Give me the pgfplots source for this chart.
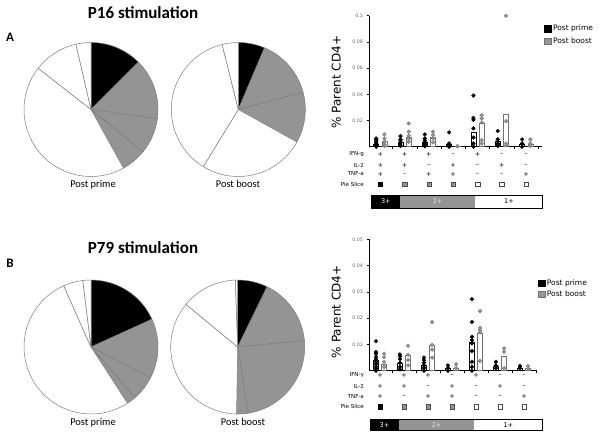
\documentclass[border=0pt]{standalone}
\usepackage{fontspec}
\setmainfont{Carlito}
\newfontfamily\lgf{DejaVu Sans}
\usepackage{pgfplots}
\pgfplotsset{compat=1.18}
\usepgfplotslibrary{polar}
\definecolor{pgray}{RGB}{148,148,148}
\definecolor{edge}{RGB}{125,125,125}
\definecolor{dgray}{RGB}{150,150,150}
\definecolor{dgrayline}{RGB}{115,115,115}
\pgfplotsset{
  pie/.style={scale only axis, width=134pt, height=134pt, hide axis, ymin=0, ymax=1,
    enlargelimits=false, anchor=center, clip=false},
  slice/.style={draw=edge, line width=0.5pt, fill=#1, samples=60, line join=round},
  rchart/.style={anchor=south west, scale only axis,
    axis x line=bottom, axis y line=left, axis line style={-, line width=0.6pt},
    tick align=outside, major tick length=2.5pt, tick style={line width=0.5pt, black},
    xtick={1.5,2.5,3.5,4.5,5.5,6.5,7.5}, xticklabels={},
    scaled y ticks=false, scaled x ticks=false,
    yticklabel style={font=\lgf\fontsize{4.8}{5}\selectfont, text=black!60},
    clip=false,
    legend style={draw=none, fill=none, anchor=north west, inner sep=0pt,
      font=\lgf\fontsize{7.5}{9}\selectfont, row sep=1.5pt},
    legend cell align=left},
  pdot/.style={only marks, mark=*, mark size=1.9pt, mark options={fill=black, draw=black}, forget plot},
  bdot/.style={only marks, mark=*, mark size=1.9pt, mark options={fill=dgray, draw=dgrayline, line width=0.3pt}, forget plot},
  pbar/.style={ybar, bar width=5pt, bar shift=0pt, fill=white, draw=black, line width=0.6pt, forget plot},
  bbar/.style={ybar, bar width=5pt, bar shift=0pt, fill=white, draw=dgrayline, line width=0.6pt, forget plot},
}
\begin{document}
\begin{tikzpicture}
\useasboundingbox (0pt,0pt) rectangle (601pt,-437pt);

% ---------------- Pies, P16 ----------------
\begin{polaraxis}[pie, at={(91pt,-109.5pt)}]
\addplot[slice=black, domain=45:90] {1} -- (axis cs:0,0) -- cycle;
\addplot[slice=pgray, domain=-8:45] {1} -- (axis cs:0,0) -- cycle;
\addplot[slice=pgray, domain=-39:-8] {1} -- (axis cs:0,0) -- cycle;
\addplot[slice=pgray, domain=-61:-39] {1} -- (axis cs:0,0) -- cycle;
\addplot[slice=white, domain=-218:-61] {1} -- (axis cs:0,0) -- cycle;
\addplot[slice=white, domain=-257:-218] {1} -- (axis cs:0,0) -- cycle;
\addplot[slice=white, domain=-270:-257] {1} -- (axis cs:0,0) -- cycle;
\end{polaraxis}
\begin{polaraxis}[pie, at={(238.3pt,-109.5pt)}]
\addplot[slice=black, domain=67:90] {1} -- (axis cs:0,0) -- cycle;
\addplot[slice=pgray, domain=15:67] {1} -- (axis cs:0,0) -- cycle;
\addplot[slice=pgray, domain=-29:15] {1} -- (axis cs:0,0) -- cycle;
\addplot[slice=white, domain=-121.5:-29] {1} -- (axis cs:0,0) -- cycle;
\addplot[slice=white, domain=-256:-121.5] {1} -- (axis cs:0,0) -- cycle;
\addplot[slice=white, domain=-270:-256] {1} -- (axis cs:0,0) -- cycle;
\end{polaraxis}

% ---------------- Pies, P79 ----------------
\begin{polaraxis}[pie, at={(91pt,-347pt)}]
\addplot[slice=black, domain=24.5:90] {1} -- (axis cs:0,0) -- cycle;
\addplot[slice=pgray, domain=-27.5:24.5] {1} -- (axis cs:0,0) -- cycle;
\addplot[slice=pgray, domain=-49:-27.5] {1} -- (axis cs:0,0) -- cycle;
\addplot[slice=pgray, domain=-57:-49] {1} -- (axis cs:0,0) -- cycle;
\addplot[slice=white, domain=-246:-57] {1} -- (axis cs:0,0) -- cycle;
\addplot[slice=white, domain=-263:-246] {1} -- (axis cs:0,0) -- cycle;
\addplot[slice=white, domain=-270:-263] {1} -- (axis cs:0,0) -- cycle;
\end{polaraxis}
\begin{polaraxis}[pie, at={(237.7pt,-347pt)}]
\addplot[slice=black, domain=64:90] {1} -- (axis cs:0,0) -- cycle;
\addplot[slice=pgray, domain=5.5:64] {1} -- (axis cs:0,0) -- cycle;
\addplot[slice=pgray, domain=-81:5.5] {1} -- (axis cs:0,0) -- cycle;
\addplot[slice=pgray, domain=-91:-81] {1} -- (axis cs:0,0) -- cycle;
\addplot[slice=white, domain=-219.5:-91] {1} -- (axis cs:0,0) -- cycle;
\addplot[slice=white, domain=-268:-219.5] {1} -- (axis cs:0,0) -- cycle;
\addplot[slice=white, domain=-270:-268] {1} -- (axis cs:0,0) -- cycle;
\end{polaraxis}

% ---------------- Right chart, P16 ----------------
\begin{axis}[rchart, at={(369pt,-146.7pt)}, width=173pt, height=131pt,
  xmin=0.535, xmax=7.65, ymin=0, ymax=0.1,
  ytick={0.02,0.04,0.06,0.08,0.1}, yticklabels={0.02,0.04,0.06,0.08,0.1},
  legend style={at={(1.014,0.945)}}]
\addplot[pbar] coordinates {(0.83,0.002) (1.83,0.003) (2.83,0.003) (3.83,0.002) (4.83,0.0107) (5.83,0.004) (6.83,0.002)};
\addplot[bbar] coordinates {(1.17,0.004) (2.17,0.0075) (3.17,0.0075) (4.17,0.0005) (5.17,0.0177) (6.17,0.0245) (7.17,0.002)};
\addplot[pdot] coordinates {
 (0.83,0) (0.83,0.0008) (0.83,0.0015) (0.83,0.0025) (0.83,0.0035) (0.83,0.0043) (0.83,0.0055) (0.83,0.0063)
 (1.83,0.0005) (1.83,0.0013) (1.83,0.003) (1.83,0.0045) (1.83,0.0056) (1.83,0.0081)
 (2.83,0.0003) (2.83,0.0008) (2.83,0.002) (2.83,0.003) (2.83,0.0045) (2.83,0.0063) (2.83,0.0094)
 (3.83,0) (3.83,0.0008) (3.83,0.0025) (3.83,0.0109)
 (4.83,0) (4.83,0.0025) (4.83,0.007) (4.83,0.014) (4.83,0.0205) (4.83,0.022) (4.83,0.039)
 (5.83,0.0005) (5.83,0.0015) (5.83,0.0025) (5.83,0.0056) (5.83,0.012)
 (6.83,0) (6.83,0.0025) (6.83,0.0056)};
\addplot[bdot] coordinates {
 (1.17,0.0005) (1.17,0.0018) (1.17,0.0038) (1.17,0.0063) (1.17,0.0094)
 (2.17,0.0038) (2.17,0.0063) (2.17,0.0084) (2.17,0.0114) (2.17,0.0177)
 (3.17,0.0033) (3.17,0.0063) (3.17,0.0089) (3.17,0.0114)
 (4.17,0.0003) (4.17,0.0005)
 (5.17,0.0025) (5.17,0.005) (5.17,0.0185) (5.17,0.0215) (5.17,0.024)
 (6.17,0.001) (6.17,0.0025) (6.17,0.0195) (6.17,0.1)
 (7.17,0.0005) (7.17,0.0025) (7.17,0.0056)};
\addplot[only marks, mark=square*, mark size=2.2pt, mark options={fill=black, draw=black, line width=0.4pt}, forget plot] coordinates {(1,-0.0287)};
\addplot[only marks, mark=square*, mark size=2.2pt, mark options={fill=pgray, draw=black!70, line width=0.4pt}, forget plot] coordinates {(2,-0.0287) (3,-0.0287) (4,-0.0287)};
\addplot[only marks, mark=square*, mark size=2.2pt, mark options={fill=white, draw=black!70, line width=0.4pt}, forget plot] coordinates {(5,-0.0287) (6,-0.0287) (7,-0.0287)};
\addlegendimage{only marks, mark=square*, mark size=3.2pt, mark options={fill=black, draw=black}}
\addlegendentry{Post prime}
\addlegendimage{only marks, mark=square*, mark size=3.2pt, mark options={fill=dgray, draw=dgrayline}}
\addlegendentry{Post boost}
\end{axis}

% ---------------- Right chart, P79 ----------------
\begin{axis}[rchart, at={(369pt,-370.7pt)}, width=167.7pt, height=131.4pt,
  xmin=0.54, xmax=7.53, ymin=0, ymax=0.05,
  ytick={0.01,0.02,0.03,0.04,0.05}, yticklabels={0.01,0.02,0.03,0.04,0.05},
  legend style={at={(1.01,0.71)}, row sep=0pt}]
\addplot[pbar] coordinates {(0.83,0.004) (1.83,0.003) (2.83,0.002) (3.83,0.001) (4.83,0.011) (5.83,0.0015) (6.83,0.001)};
\addplot[bbar] coordinates {(1.17,0.0025) (2.17,0.006) (3.17,0.0098) (4.17,0.001) (5.17,0.0142) (6.17,0.0053) (7.17,0.001)};
\addplot[pdot] coordinates {
 (0.83,0) (0.83,0.0008) (0.83,0.0015) (0.83,0.0025) (0.83,0.0034) (0.83,0.0045) (0.83,0.0053) (0.83,0.0065) (0.83,0.0071) (0.83,0.0112)
 (1.83,0.0005) (1.83,0.0015) (1.83,0.003) (1.83,0.0045) (1.83,0.0055) (1.83,0.0062)
 (2.83,0) (2.83,0.001) (2.83,0.002) (2.83,0.003) (2.83,0.004) (2.83,0.005)
 (3.83,0) (3.83,0.001) (3.83,0.002)
 (4.83,0) (4.83,0.0015) (4.83,0.0034) (4.83,0.0075) (4.83,0.0104) (4.83,0.0116) (4.83,0.0129) (4.83,0.0185) (4.83,0.0272)
 (5.83,0.001) (5.83,0.002) (5.83,0.0034)
 (6.83,0.001) (6.83,0.0018)};
\addplot[bdot] coordinates {
 (1.17,0.0015) (1.17,0.0034) (1.17,0.0052) (1.17,0.0065)
 (2.17,0.002) (2.17,0.004) (2.17,0.006) (2.17,0.0095)
 (3.17,0.005) (3.17,0.008) (3.17,0.0098) (3.17,0.0185)
 (4.17,0.001) (4.17,0.0025)
 (5.17,0.0037) (5.17,0.0146) (5.17,0.0154) (5.17,0.0163) (5.17,0.0227)
 (6.17,0.001) (6.17,0.0072) (6.17,0.0085)
 (7.17,0.0008) (7.17,0.0018)};
\addplot[only marks, mark=square*, mark size=2.2pt, mark options={fill=black, draw=black, line width=0.4pt}, forget plot] coordinates {(1,-0.0137)};
\addplot[only marks, mark=square*, mark size=2.2pt, mark options={fill=pgray, draw=black!70, line width=0.4pt}, forget plot] coordinates {(2,-0.0137) (3,-0.0137) (4,-0.0137)};
\addplot[only marks, mark=square*, mark size=2.2pt, mark options={fill=white, draw=black!70, line width=0.4pt}, forget plot] coordinates {(5,-0.0137) (6,-0.0137) (7,-0.0137)};
\addlegendimage{only marks, mark=square*, mark size=3.2pt, mark options={fill=black, draw=black}}
\addlegendentry{Post prime}
\addlegendimage{only marks, mark=square*, mark size=3.2pt, mark options={fill=dgray, draw=dgrayline}}
\addlegendentry{Post boost}
\end{axis}

% ---------------- Annotations ----------------
\begin{scope}[x=1pt, y=1pt]
\node[anchor=base, font=\bfseries\fontsize{17}{17}\selectfont] at (143,-18.3) {P16 stimulation};
\node[anchor=base, font=\bfseries\fontsize{17}{17}\selectfont] at (143,-253.3) {P79 stimulation};
\node[anchor=base, font=\bfseries\fontsize{13}{13}\selectfont] at (10,-41.7) {A};
\node[anchor=base, font=\bfseries\fontsize{13}{13}\selectfont] at (10,-267.3) {B};
\node[anchor=base, font=\fontsize{10.4}{11}\selectfont] at (93,-187.3) {Post prime};
\node[anchor=base, font=\fontsize{10.4}{11}\selectfont] at (238,-187.3) {Post boost};
\node[anchor=base, font=\fontsize{10.4}{11}\selectfont] at (93,-425) {Post prime};
\node[anchor=base, font=\fontsize{10.4}{11}\selectfont] at (243,-425) {Post boost};

\node[anchor=base, rotate=90, font=\lgf\fontsize{12}{12}\selectfont] at (340.5,-82.2) {\% Parent CD4+};
\node[anchor=base, rotate=90, font=\lgf\fontsize{12}{12}\selectfont] at (340.5,-311.7) {\% Parent CD4+};

\tikzset{rl/.style={anchor=east, font=\lgf\fontsize{5.5}{6}\selectfont, inner sep=0pt},
         sg/.style={anchor=center, font=\lgf\fontsize{6.5}{7}\selectfont, inner sep=0pt}}
\node[rl] at (364,-154.3) {IFN-g};
\node[rl] at (364,-165) {IL-2};
\node[rl] at (364,-174) {TNF-a};
\node[rl] at (364,-184.3) {Pie Slice};
\foreach \x/\a/\b/\c in {380.3/+/+/+, 404.6/+/+/–, 428.9/+/–/+, 453.2/–/+/+, 477.5/+/–/–, 501.8/–/+/–, 526.1/–/–/+} {
  \node[sg] at (\x,-154.3) {\a};
  \node[sg] at (\x,-165) {\b};
  \node[sg] at (\x,-174.3) {\c};
}
\node[rl] at (364,-375.3) {IFN-γ};
\node[rl] at (364,-386.7) {IL-2};
\node[rl] at (364,-396.7) {TNF-a};
\node[rl] at (364,-406.7) {Pie Slice};
\foreach \x/\a/\b/\c in {380/+/+/+, 404/+/+/–, 428/+/–/+, 452/–/+/+, 476/+/–/–, 500/–/+/–, 524/–/–/+} {
  \node[sg] at (\x,-375.3) {\a};
  \node[sg] at (\x,-386.7) {\b};
  \node[sg] at (\x,-396.7) {\c};
}

\fill[black] (371.7,-195) rectangle (400,-208);
\fill[pgray] (400,-195) rectangle (475.3,-208);
\draw[line width=0.8pt] (371.7,-195) rectangle (542.7,-208);
\node[font=\lgf\fontsize{6.5}{7}\selectfont, text=white] at (385.8,-201.5) {3+};
\node[font=\lgf\fontsize{6.5}{7}\selectfont, text=white!80!gray] at (437.6,-201.5) {2+};
\node[font=\lgf\fontsize{6.5}{7}\selectfont] at (509,-201.5) {1+};

\fill[black] (370,-419) rectangle (399,-430.7);
\fill[pgray] (399,-419) rectangle (474.3,-430.7);
\draw[line width=0.8pt] (370,-419) rectangle (542.3,-430.7);
\node[font=\lgf\fontsize{6.5}{7}\selectfont, text=white] at (384.5,-424.9) {3+};
\node[font=\lgf\fontsize{6.5}{7}\selectfont, text=white!80!gray] at (436.6,-424.9) {2+};
\node[font=\lgf\fontsize{6.5}{7}\selectfont] at (508.3,-424.9) {1+};
\end{scope}
\end{tikzpicture}
\end{document}
